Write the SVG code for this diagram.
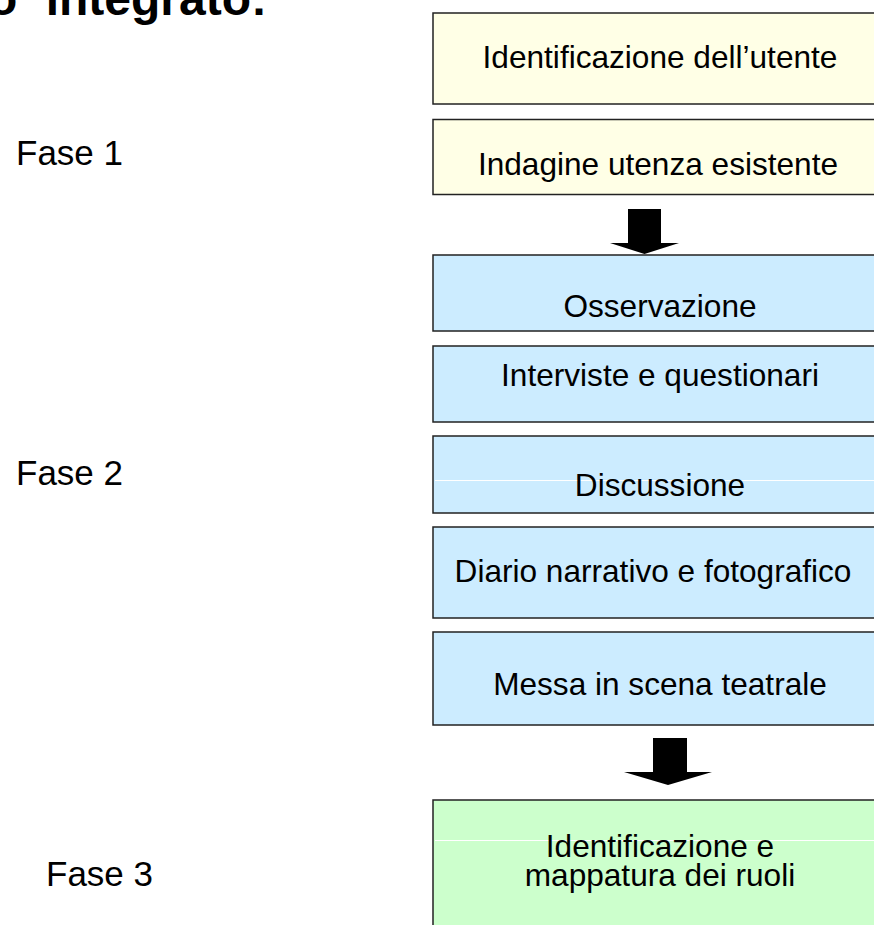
<svg xmlns="http://www.w3.org/2000/svg" width="874" height="925" viewBox="0 0 874 925">
<style>
text{font-family:"Liberation Sans",Arial,sans-serif;fill:#000}
.box{stroke:#222;stroke-width:1.5}
.y{fill:#FFFFE6}
.b{fill:#CCECFF}
.g{fill:#CCFFCC}
.t{font-size:31.6px;text-anchor:middle}
.f{font-size:35px}
.arrow{fill:#000}
.wl{stroke:#fff;stroke-width:1}
</style>
<rect width="874" height="925" fill="#fff"/>
<text x="-12" y="15" font-size="48" font-weight="bold" word-spacing="15">o integrato:</text>
<g id="labels">
<text class="f" x="16" y="165">Fase 1</text>
<text class="f" x="16" y="485">Fase 2</text>
<text class="f" x="46" y="886">Fase 3</text>
</g>
<g id="n1"><rect class="box y" x="433" y="13" width="454" height="91"/><text class="t" x="660" y="68">Identificazione dell’utente</text></g>
<g id="n2"><rect class="box y" x="433" y="119.5" width="454" height="75"/><text class="t" x="658" y="175">Indagine utenza esistente</text></g>
<g id="n3"><rect class="box b" x="433" y="255" width="454" height="76"/><text class="t" x="660" y="317">Osservazione</text></g>
<g id="n4"><rect class="box b" x="433" y="346" width="454" height="76"/><text class="t" x="660" y="386">Interviste e questionari</text></g>
<g id="n5"><rect class="box b" x="433" y="436" width="454" height="77"/><line class="wl" x1="435" y1="480.5" x2="887" y2="480.5"/><text class="t" x="660" y="496">Discussione</text></g>
<g id="n6"><rect class="box b" x="433" y="527" width="454" height="91"/><text class="t" x="653" y="582">Diario narrativo e fotografico</text></g>
<g id="n7"><rect class="box b" x="433" y="632" width="454" height="93"/><text class="t" x="660" y="695">Messa in scena teatrale</text></g>
<g id="n8"><rect class="box g" x="433" y="800" width="454" height="140"/><line class="wl" x1="435" y1="840.5" x2="887" y2="840.5"/><text class="t" x="660" y="857">Identificazione e </text><text class="t" x="660" y="886">mappatura dei ruoli</text></g>
<g id="connectors">
<path class="arrow" d="M628,209 H661 V243 H679 L644.5,254 L610,243 H628 Z"/>
<path class="arrow" d="M653,738 H687 V772 H712 L668,785 L624,772 H653 Z"/>
</g>
</svg>
